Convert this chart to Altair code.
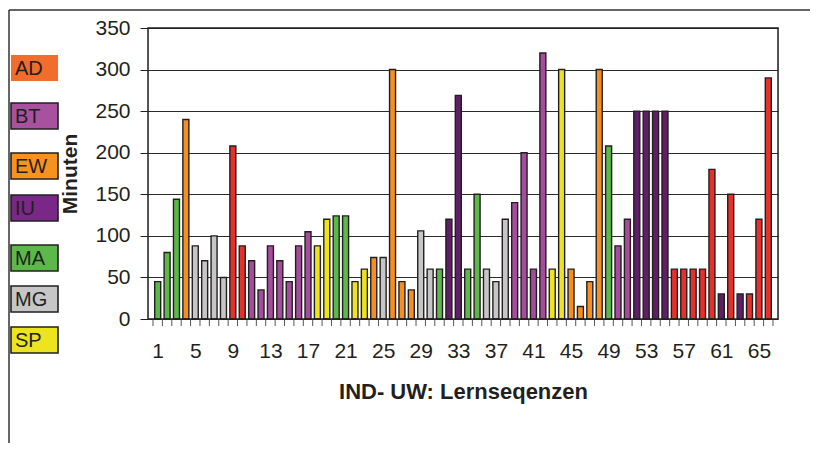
import altair as alt
import pandas as pd

# Data
seq = list(range(1, 67))
minutes = [45, 80, 144, 240, 88, 70, 100, 50, 208, 88,
           70, 35, 88, 70, 45, 88, 105, 88, 120, 124,
           124, 45, 60, 74, 74, 300, 45, 35, 106, 60,
           60, 120, 269, 60, 150, 60, 45, 120, 140, 200,
           60, 320, 60, 300, 60, 15, 45, 300, 208, 88,
           120, 250, 250, 250, 250, 60, 60, 60, 60, 180,
           30, 150, 30, 30, 120, 290]
kategorie = ["MA", "MA", "MA", "EW", "MG", "MG", "MG", "MG", "AD", "AD",
             "BT", "BT", "BT", "BT", "BT", "BT", "BT", "SP", "SP", "MA",
             "MA", "SP", "SP", "EW", "MG", "EW", "EW", "EW", "MG", "MG",
             "MA", "IU", "IU", "MA", "MA", "MG", "MG", "MG", "BT", "BT",
             "BT", "BT", "SP", "SP", "EW", "EW", "EW", "EW", "MA", "BT",
             "BT", "IU", "IU", "IU", "IU", "AD", "AD", "AD", "AD", "AD",
             "IU", "AD", "IU", "AD", "AD", "AD"]
x_labels = list(range(1, 67, 4))
y_ticks = [0, 50, 100, 150, 200, 250, 300, 350]

legend_names = ["AD", "BT", "EW", "IU", "MA", "MG", "SP"]
bar_colors = ["#e8302a", "#a54d9c", "#f5901e", "#5e1f66", "#5cb848", "#c6c6c6", "#ede41f"]
legend_colors = ["#f26d2b", "#a7519f", "#f7921f", "#7a2888", "#5cb848", "#c6c6c6", "#ede41f"]

df = pd.DataFrame({"seq": seq, "min": minutes, "kat": kategorie})
ticks_df = pd.DataFrame({"b": [i + 0.5 for i in range(0, 67)]})

W, H = 630, 291
FONT = "Liberation Sans"
INK = "#231f20"

xscale = alt.Scale(domain=[0.5, 66.5], nice=False, zero=False)
yscale = alt.Scale(domain=[0, 350], nice=False)

x_axis = alt.Axis(values=x_labels, ticks=False, grid=False, domain=False,
                  labelOverlap=False, labelFontSize=21, labelPadding=21,
                  labelColor=INK, labelFont=FONT,
                  title="IND- UW: Lernseqenzen", titleFontSize=22,
                  titleFont=FONT, titleColor=INK,
                  titleFontWeight="bold", titlePadding=20)

bars = alt.Chart(df).mark_bar(size=6, stroke=INK, strokeWidth=1.4).encode(
    x=alt.X("seq:Q", scale=xscale, axis=x_axis),
    y=alt.Y("min:Q", scale=yscale,
            axis=alt.Axis(values=y_ticks, grid=True, gridColor="#2a2a2a", gridWidth=1,
                          domain=False, tickSize=8, tickColor=INK,
                          labelFontSize=21, labelPadding=10, labelColor=INK,
                          labelFont=FONT,
                          title="Minuten", titleFontSize=21, titleFont=FONT,
                          titleFontWeight="bold", titleColor=INK, titlePadding=14)),
    color=alt.Color("kat:N", scale=alt.Scale(domain=legend_names, range=bar_colors), legend=None),
)

xticks = alt.Chart(ticks_df).mark_rule(color="#555555", strokeWidth=1).encode(
    x=alt.X("b:Q", scale=xscale, axis=x_axis),
    y=alt.value(H), y2=alt.value(H + 7),
)

one = pd.DataFrame({"a": [0]})

# plot frame
frame = alt.Chart(one).mark_rect(
    fill=None, stroke=INK, strokeWidth=1.5
).encode(x=alt.value(0), x2=alt.value(W), y=alt.value(0), y2=alt.value(H))

# outer border lines
outer_top = alt.Chart(one).mark_rule(color="#333333", strokeWidth=1.5).encode(
    x=alt.value(-139), x2=alt.value(662), y=alt.value(-18))
outer_left = alt.Chart(one).mark_rule(color="#333333", strokeWidth=1.5).encode(
    x=alt.value(-139), x2=alt.value(-139), y=alt.value(-18), y2=alt.value(420))

# legend boxes
leg_tops = [55, 103, 153, 195, 245, 286, 327]
leg_df = pd.DataFrame({
    "name": legend_names,
    "col": legend_colors,
    "y0": [t - 28 for t in leg_tops],
    "y1": [t - 28 + 26 for t in leg_tops],
})
lscale = alt.Scale(domain=[0, H], range=[0, H])
leg_boxes = alt.Chart(leg_df).mark_rect().encode(
    x=alt.value(-137), x2=alt.value(-90),
    y=alt.Y("y0:Q", scale=lscale, axis=None),
    y2="y1:Q",
    fill=alt.Fill("col:N", scale=None),
)
leg_outline = alt.Chart(leg_df).transform_filter(alt.datum.name != "AD").mark_rect(
    fill=None, stroke=INK, strokeWidth=1.6
).encode(
    x=alt.value(-137), x2=alt.value(-90),
    y=alt.Y("y0:Q", scale=lscale, axis=None),
    y2="y1:Q",
)
leg_text = alt.Chart(leg_df).transform_calculate(ym="(datum.y0 + datum.y1) / 2").mark_text(
    align="left", baseline="middle", fontSize=20, font=FONT, color=INK, dy=1
).encode(
    x=alt.value(-133),
    y=alt.Y("ym:Q", scale=lscale, axis=None),
    text="name:N",
)

legend_layer = alt.layer(leg_boxes, leg_outline, leg_text)

chart = alt.layer(bars, xticks, frame, outer_top, outer_left, legend_layer).resolve_scale(
    y="independent"
).properties(
    width=W, height=H,
    autosize=alt.AutoSizeParams(type="none"),
    padding={"left": 140, "top": 20, "right": 32, "bottom": 124},
).configure_view(stroke=None).configure(background="white")

chart.save("out.html", embed_options={"renderer": "svg", "actions": False})
